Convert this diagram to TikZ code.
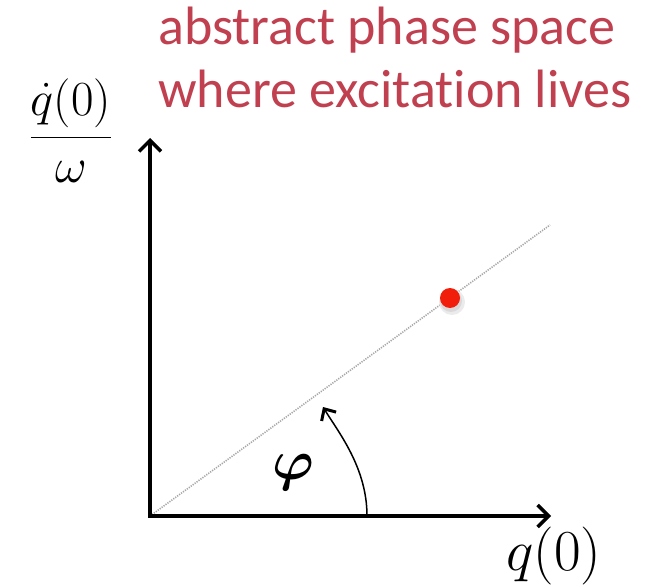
\RequirePackage{fix-cm}
\documentclass[tikz,border=0pt]{standalone}
\usepackage{fontspec}
\newfontfamily\calib[Ligatures=NoCommon]{Carlito}
\usetikzlibrary{arrows.meta}
\definecolor{titlered}{RGB}{192,64,80}
\definecolor{dotred}{RGB}{240,30,10}
\begin{document}
\begin{tikzpicture}[x=1pt,y=-1pt,
  axis/.style={line width=4pt,
    {Straight Barb[length=11pt,width=22pt,line width=3.5pt]}-{Straight Barb[length=11pt,width=22pt,line width=3.5pt]}},
  anglearrow/.style={line width=1.5pt,-{Straight Barb[length=9pt,width=17pt,line width=3pt]}},
  phaseline/.style={line width=1.6pt,black!35,dash pattern=on 1.2pt off 1.2pt},
  titletext/.style={font=\calib\fontsize{54}{66}\selectfont,text=titlered,inner sep=0pt,anchor=base west},
  mathlabel/.style={inner sep=0pt}
]
\useasboundingbox (0,0) rectangle (656,588);
% coordinates
\coordinate (O) at (150,516);
\coordinate (X) at (551,516);
\coordinate (Y) at (150,138);
\coordinate (D) at (550,225);
\coordinate (A) at (367,516);
\coordinate (B) at (323,407);
% title
\node[titletext] (t1) at (158,45) {abstract phase space};
\node[titletext] (t2) at (158,108) {where excitation lives};
% phase line
\draw[phaseline] (O) -- (D);
% axes
\draw[axis,line join=miter] (Y) -- (O) -- (X);
% angle arrow
\draw[anglearrow] (A) .. controls (367,468) and (339,433) .. (B);
% red dot with soft shadow
\fill[black!8] (452,302) circle (13);
\fill[black!15] (451,301) circle (11);
\node[circle,fill=dotred,minimum size=20pt,inner sep=0pt] (dot) at (450,298) {};
% labels
\node[mathlabel,font=\fontsize{49}{54}\selectfont] (ylab) at (71,131) {$\displaystyle\frac{\dot q(0)}{\omega}$};
\node[mathlabel,font=\fontsize{58}{62}\selectfont] (xlab) at (554,556) {$q(0)$};
\node[mathlabel,font={\fontsize{56}{62}\selectfont\boldmath}] (phi) at (293,472) {$\varphi$};
\end{tikzpicture}
\end{document}
